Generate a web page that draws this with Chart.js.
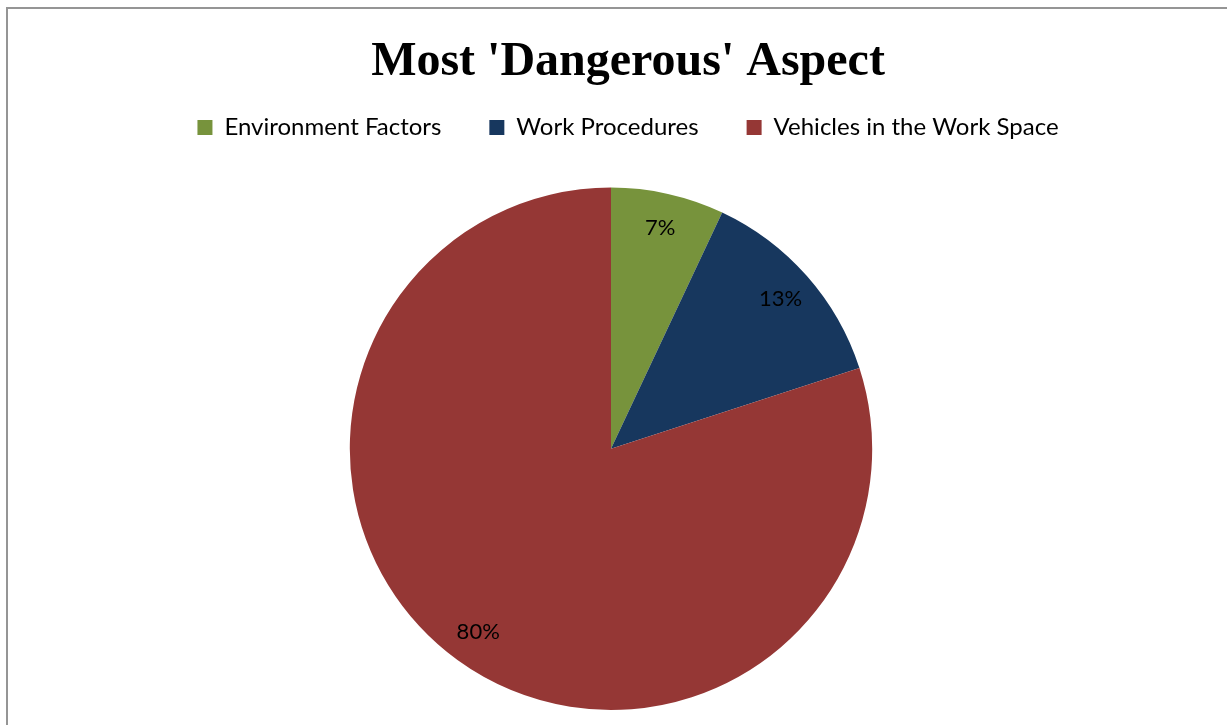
<!DOCTYPE html>
<html>
<head>
<meta charset="utf-8">
<script src="https://cdn.jsdelivr.net/npm/chart.js@4/dist/chart.umd.min.js"></script>
<style>
    html, body { margin: 0; padding: 0; background: #fff; overflow: hidden; }
    #frame {
        position: absolute; left: 6px; top: 7px;
        width: 1240px; height: 740px;
        border: 2px solid #959595;
    }
    #wrap { position: absolute; left: 0; top: 0; width: 1256px; height: 725px; }
</style>
</head>
<body>
<div id="frame"></div>
<div id="wrap"><canvas id="pieChart"></canvas></div>
<script>
const categories = ['Environment Factors', 'Work Procedures', 'Vehicles in the Work Space'];
const shares = [7, 13, 80];
const sliceColors = ['#77933C', '#17375E', '#953735'];

// empty layout box, used to leave a gap under the legend and on the right
function makeSpacer(position, size, weight) {
    return {
        position: position, weight: weight, fullSize: false,
        options: {},
        left: 0, top: 0, right: 0, bottom: 0, width: 0, height: 0,
        isHorizontal() { return position === 'top' || position === 'bottom'; },
        update(maxWidth, maxHeight) {
            if (this.isHorizontal()) { this.width = maxWidth; this.height = size; }
            else { this.width = size; this.height = maxHeight; }
        },
        getPadding() { return { left: 0, top: 0, right: 0, bottom: 0 }; },
        draw() {}
    };
}

const spacers = {
    id: 'spacers',
    beforeInit(chart) {
        Chart.layouts.addBox(chart, makeSpacer('top', 38, 500));
        Chart.layouts.addBox(chart, makeSpacer('right', 34, 0));
    }
};

// percent labels inside the slices
const sliceLabels = {
    id: 'sliceLabels',
    afterDatasetsDraw(chart) {
        const ctx = chart.ctx;
        const meta = chart.getDatasetMeta(0);
        ctx.save();
        ctx.font = '22px Lato, "Open Sans", sans-serif';
        ctx.fillStyle = '#000';
        ctx.textAlign = 'center';
        ctx.textBaseline = 'middle';
        meta.data.forEach((arc, i) => {
            const p = arc.getProps(['x', 'y', 'startAngle', 'endAngle', 'outerRadius'], true);
            const mid = (p.startAngle + p.endAngle) / 2;
            const r = p.outerRadius * 0.865;
            ctx.fillText(shares[i] + '%', p.x + Math.cos(mid) * r, p.y + Math.sin(mid) * r);
        });
        ctx.restore();
    }
};

document.addEventListener("DOMContentLoaded", () => {
    const canvas = document.getElementById('pieChart');
    new Chart(canvas.getContext('2d'), {
        type: 'pie',
        data: {
            labels: categories,
            datasets: [{
                data: shares,
                backgroundColor: sliceColors,
                borderWidth: 0
            }]
        },
        options: {
            responsive: true,
            maintainAspectRatio: false,
            animation: false,
            layout: { padding: { top: 0, bottom: 15, left: 0, right: 0 } },
            plugins: {
                title: {
                    display: true,
                    text: "Most 'Dangerous' Aspect",
                    color: '#000',
                    font: { family: '"Liberation Serif", "Times New Roman", serif', size: 48, weight: 'bold' },
                    padding: { top: 34, bottom: -24 }
                },
                legend: {
                    position: 'top',
                    labels: {
                        color: '#000',
                        font: { family: 'Lato, "Open Sans", sans-serif', size: 24 },
                        boxWidth: 15,
                        boxHeight: 15,
                        padding: 48
                    }
                },
                tooltip: { enabled: false }
            }
        },
        plugins: [spacers, sliceLabels]
    });
});
</script>
</body>
</html>
